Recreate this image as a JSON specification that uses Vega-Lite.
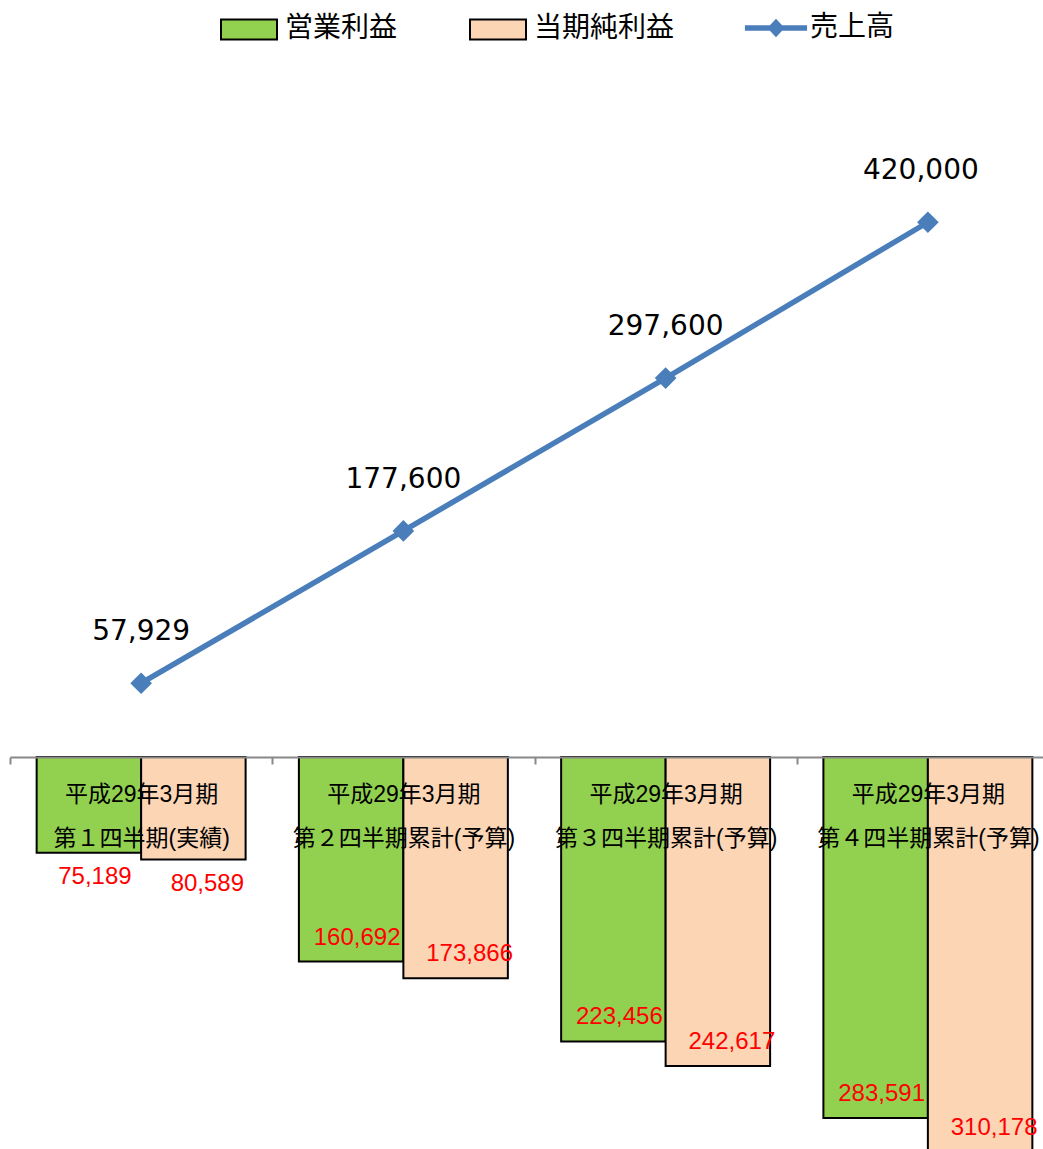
{
  "$schema": "https://vega.github.io/schema/vega-lite/v6.json",
  "autosize": {"type": "none"},
  "padding": {"left": 10, "top": 60, "right": 0, "bottom": 0},
  "width": 1033,
  "height": 1089,
  "background": "white",
  "config": {"view": {"stroke": null}},
  "datasets": {
    "bars": [
      {"period": "平成29年3月期 第１四半期(実績)", "series": "営業利益", "value": -75189},
      {"period": "平成29年3月期 第１四半期(実績)", "series": "当期純利益", "value": -80589},
      {"period": "平成29年3月期 第２四半期累計(予算)", "series": "営業利益", "value": -160692},
      {"period": "平成29年3月期 第２四半期累計(予算)", "series": "当期純利益", "value": -173866},
      {"period": "平成29年3月期 第３四半期累計(予算)", "series": "営業利益", "value": -223456},
      {"period": "平成29年3月期 第３四半期累計(予算)", "series": "当期純利益", "value": -242617},
      {"period": "平成29年3月期 第４四半期累計(予算)", "series": "営業利益", "value": -283591},
      {"period": "平成29年3月期 第４四半期累計(予算)", "series": "当期純利益", "value": -310178}
    ],
    "sales": [
      {"period": "平成29年3月期 第１四半期(実績)", "series": "売上高", "value": 57929},
      {"period": "平成29年3月期 第２四半期累計(予算)", "series": "売上高", "value": 177600},
      {"period": "平成29年3月期 第３四半期累計(予算)", "series": "売上高", "value": 297600},
      {"period": "平成29年3月期 第４四半期累計(予算)", "series": "売上高", "value": 420000}
    ]
  },
  "layer": [
    {
      "data": {"name": "bars"},
      "mark": {"type": "bar", "stroke": "black", "strokeWidth": 2},
      "encoding": {
        "x": {
          "field": "period", "type": "nominal", "title": null,
          "scale": {
            "domain": ["平成29年3月期 第１四半期(実績)", "平成29年3月期 第２四半期累計(予算)", "平成29年3月期 第３四半期累計(予算)", "平成29年3月期 第４四半期累計(予算)"],
            "range": [0, 1049], "paddingInner": 0, "paddingOuter": 0
          },
          "axis": {
            "orient": "bottom", "offset": -392, "title": null, "grid": false,
            "domainColor": "#888888", "domainWidth": 2,
            "tickColor": "#888888", "tickWidth": 2, "tickSize": 7, "tickBand": "extent",
            "labelExpr": "split(datum.label, ' ')",
            "labelFont": "Liberation Sans, Noto Sans CJK JP", "labelFontSize": 23, "labelColor": "black",
            "labelPadding": 19, "labelBaseline": "top", "labelLineHeight": 44, "labelAngle": 0,
            "labelLimit": 0, "labelOverlap": false, "labelBound": false, "labelFlush": false,
            "zindex": 1
          }
        },
        "xOffset": {"field": "series", "type": "nominal", "sort": ["営業利益", "当期純利益"], "scale": {"paddingInner": 0, "paddingOuter": 0.255}},
        "y": {
          "field": "value", "type": "quantitative", "title": null, "axis": null,
          "scale": {"domain": [-307890, 547440], "nice": false, "zero": false}
        },
        "color": {
          "field": "series", "type": "nominal",
          "scale": {"domain": ["営業利益", "当期純利益"], "range": ["#92D050", "#FCD5B5"]},
          "legend": {
            "title": null, "orient": "none", "legendX": 210, "legendY": -60, "direction": "horizontal",
            "padding": 0, "offset": 0, "columnPadding": 68, "labelOffset": 7,
            "symbolType": "M-1,-0.36H1V0.36H-1Z", "symbolSize": 3136,
            "symbolStrokeColor": "black", "symbolStrokeWidth": 2, "symbolOpacity": 1,
            "labelFont": "Noto Sans CJK JP", "labelFontSize": 28, "labelColor": "black", "labelLimit": 0
          }
        }
      }
    },
    {
      "data": {"name": "bars"},
      "mark": {
        "type": "text", "font": "Liberation Sans", "fontSize": 24, "color": "#FF0000",
        "align": "center", "baseline": "middle",
        "text": {"expr": "format(-datum.value, ',')"},
        "dy": {"expr": "datum.value > -100000 ? 24 : -24"},
        "dx": {"expr": "datum.series === '営業利益' ? 6 : 14"}
      },
      "encoding": {
        "x": {"field": "period", "type": "nominal", "title": null},
        "xOffset": {"field": "series", "type": "nominal", "sort": ["営業利益", "当期純利益"]},
        "y": {"field": "value", "type": "quantitative", "title": null, "axis": null}
      }
    },
    {
      "data": {"name": "sales"},
      "mark": {"type": "line", "strokeWidth": 5.5, "point": {"shape": "diamond", "size": 470, "filled": true, "fill": "#4A7EBB", "strokeWidth": 0}},
      "encoding": {
        "x": {"field": "period", "type": "nominal", "title": null},
        "y": {"field": "value", "type": "quantitative", "title": null, "axis": null},
        "stroke": {
          "field": "series", "type": "nominal",
          "scale": {"domain": ["売上高"], "range": ["#4A7EBB"]},
          "legend": {
            "title": null, "orient": "none", "legendX": 738, "legendY": -60, "direction": "horizontal",
            "padding": 0, "offset": 0, "labelOffset": 6,
            "symbolType": "M-1.11,-0.1H1.11V0.1H-1.11Z M0,-0.33L0.31,0L0,0.33L-0.31,0Z", "symbolSize": 3136,
            "symbolFillColor": "#4A7EBB", "symbolStrokeWidth": 0, "symbolOpacity": 1,
            "labelFont": "Noto Sans CJK JP", "labelFontSize": 28, "labelColor": "black", "labelLimit": 0
          }
        }
      }
    },
    {
      "data": {"name": "sales"},
      "mark": {
        "type": "text", "font": "DejaVu Sans", "fontSize": 28, "color": "black", "align": "center", "baseline": "middle", "dy": -51,
        "dx": {"expr": "datum.value > 400000 ? -7 : 0"}
      },
      "encoding": {
        "x": {"field": "period", "type": "nominal", "title": null},
        "y": {"field": "value", "type": "quantitative", "title": null, "axis": null},
        "text": {"field": "value", "type": "quantitative", "format": ","}
      }
    }
  ]
}
